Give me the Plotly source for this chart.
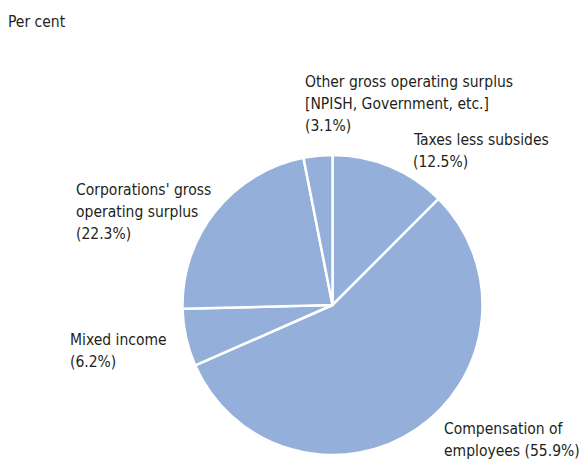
import plotly.graph_objects as go

categories = ["Taxes less subsides", "Compensation of employees", "Mixed income",
              "Corporations' gross operating surplus",
              "Other gross operating surplus [NPISH, Government, etc.]"]
values = [12.5, 55.9, 6.2, 22.3, 3.1]

# label lines per slice (same order as categories)
label_lines = [
    ["Taxes less subsides", "(12.5%)"],
    ["Compensation of", "employees (55.9%)"],
    ["Mixed income", "(6.2%)"],
    ["Corporations' gross", "operating surplus", "(22.3%)"],
    ["Other gross operating surplus", "[NPISH, Government, etc.]", "(3.1%)"],
]

W, H = 582, 459
FONT = "DejaVu Sans Condensed"
FS = 15.5
TXT = "#231f20"

fig = go.Figure(go.Pie(
    labels=categories, values=values, sort=False, direction="clockwise", rotation=0,
    marker=dict(colors=["#94afda"] * len(values), line=dict(color="white", width=2.5)),
    textinfo="none", hoverinfo="label+percent", showlegend=False,
    domain=dict(x=[182 / W, 483 / W], y=[1 - 455 / H, 1 - 155 / H]),
))

# label anchor positions in pixels: (left x, first line centre y)
label_pos = [(412, 140), (443, 429), (69, 340), (75, 190), (304, 82)]
line_gap = 22

annotations = [dict(text="Per cent", x=7 / W, y=1 - 22 / H, xref="paper", yref="paper",
                    xanchor="left", yanchor="middle", showarrow=False, borderpad=0,
                    font=dict(family=FONT, size=FS, color=TXT))]
for (lx, ly), lines in zip(label_pos, label_lines):
    for i, t in enumerate(lines):
        annotations.append(dict(text=t, x=lx / W, y=1 - (ly + i * line_gap) / H,
                                xref="paper", yref="paper", xanchor="left", yanchor="middle",
                                showarrow=False, borderpad=0,
                                font=dict(family=FONT, size=FS, color=TXT)))

fig.update_layout(width=W, height=H, margin=dict(l=0, r=0, t=0, b=0),
                  paper_bgcolor="white", plot_bgcolor="white", annotations=annotations)
fig.write_html("out.html", config={"displayModeBar": False},
               post_script="document.body.style.margin='0';")
